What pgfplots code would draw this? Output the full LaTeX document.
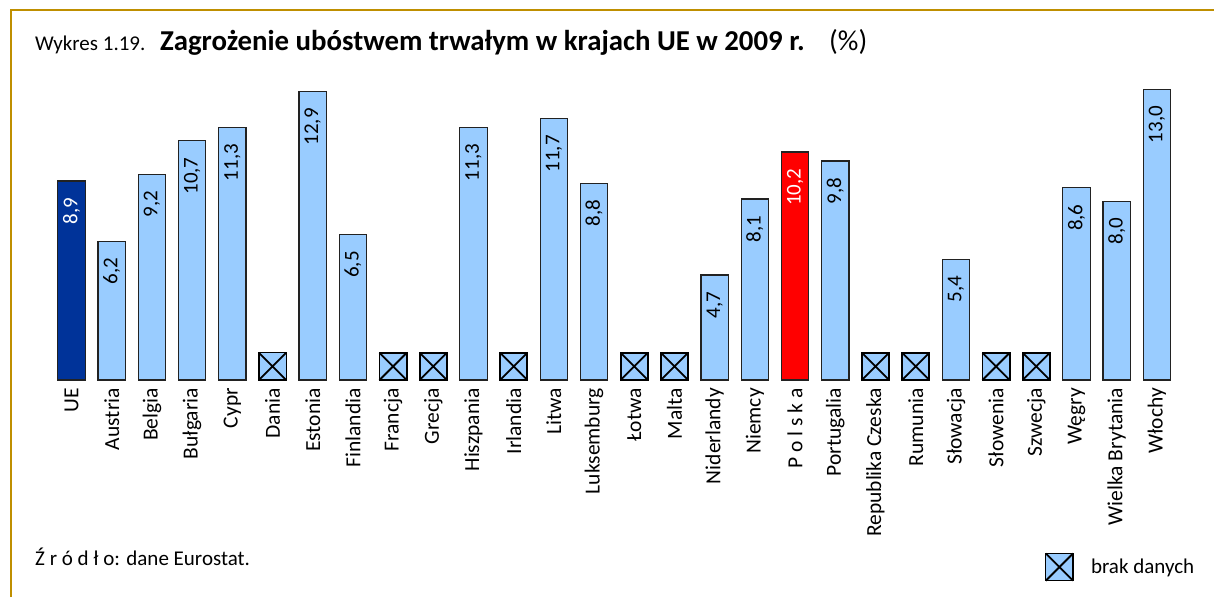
\documentclass[border=0pt]{standalone}
\usepackage{fontspec}
\setmainfont{Carlito}
\usepackage{pgfplots}
\pgfplotsset{compat=1.18}
\definecolor{lblue}{HTML}{99CCFF}
\definecolor{dblue}{HTML}{003399}
\definecolor{pred}{HTML}{FF0000}
\definecolor{gold}{HTML}{BF8F00}
\definecolor{bord}{HTML}{222222}
\pgfdeclareplotmark{boxx}{%
  \pgfpathrectangle{\pgfpoint{-\pgfplotmarksize}{-\pgfplotmarksize}}{\pgfpoint{2\pgfplotmarksize}{2\pgfplotmarksize}}%
  \pgfusepathqfillstroke
  \pgfsetlinewidth{1.8pt}%
  \pgfpathmoveto{\pgfpoint{-\pgfplotmarksize}{-\pgfplotmarksize}}%
  \pgfpathlineto{\pgfpoint{\pgfplotmarksize}{\pgfplotmarksize}}%
  \pgfpathmoveto{\pgfpoint{-\pgfplotmarksize}{\pgfplotmarksize}}%
  \pgfpathlineto{\pgfpoint{\pgfplotmarksize}{-\pgfplotmarksize}}%
  \pgfusepathqstroke}
\newcommand{\fs}{\fontsize{21}{25}\selectfont}
\newcommand{\ft}{\fontsize{21.5}{25}\selectfont}
\begin{document}
\begin{tikzpicture}
\useasboundingbox (0,0) rectangle (1214pt,597pt);
\draw[gold, line width=2pt] (11pt,0) -- (11pt,587pt) -- (1214pt,587pt);
\node[anchor=base west, inner sep=0pt] at (35pt,546pt) {\fs Wykres 1.19.};
\node[anchor=base west, inner sep=0pt] at (160pt,546pt) {\fontsize{28.8}{32}\selectfont\bfseries Zagrożenie ubóstwem trwałym w krajach UE w 2009 r.\mdseries\hspace{0.85em}(\%)};
\node[anchor=base west, inner sep=0pt] at (35pt,32pt) {\fs Ź r ó d ł o: dane Eurostat.};
\begin{axis}[
  at={(51.4pt,217pt)}, anchor=south west,
  scale only axis, width=1125.6pt, height=301.7pt,
  xmin=-0.5, xmax=27.5, ymin=0, ymax=13.5,
  axis x line*=bottom, axis y line=none,
  x axis line style={draw=none},
  major tick length=0pt,
  clip=false,
  xtick={0,...,27},
  xticklabels={UE,Austria,Belgia,Bułgaria,Cypr,Dania,Estonia,Finlandia,Francja,Grecja,Hiszpania,Irlandia,Litwa,Luksemburg,Łotwa,Malta,Niderlandy,Niemcy,P o l s k a,Portugalia,Republika Czeska,Rumunia,Słowacja,Słowenia,Szwecja,Węgry,Wielka Brytania,Włochy},
  xticklabel style={yshift=-8pt, rotate=90, anchor=east, inner sep=0pt, font=\ft},
  ybar, bar width=27.4pt,
  /pgf/number format/.cd, fixed, fixed zerofill, precision=1, use comma, assume math mode=true,
  /pgfplots/.cd,
  legend style={at={(0.8833,-0.62)}, anchor=west, draw=none, fill=none, inner sep=0pt, column sep=18pt, font=\fs, nodes={inner sep=0pt}},
  legend image code/.code={\draw[#1] plot coordinates {(13.6pt,0pt)};},
]
\addplot[bar shift=0pt, fill=dblue, draw=bord, line width=1.2pt, forget plot,
  nodes near coords, nodes near coords style={yshift=-16pt, rotate=90, anchor=east, inner sep=0pt, font=\fs, text=white}]
  coordinates {(0,8.9)};
\addplot[bar shift=0pt, fill=lblue, draw=bord, line width=1.2pt, forget plot,
  nodes near coords, nodes near coords style={yshift=-16pt, rotate=90, anchor=east, inner sep=0pt, font=\fs, text=black}]
  coordinates {(1,6.2) (2,9.2) (3,10.7) (4,11.3) (6,12.9) (7,6.5) (10,11.3) (12,11.7) (13,8.8) (16,4.7) (17,8.1) (19,9.8) (22,5.4) (25,8.6) (26,8.0) (27,13.0)};
\addplot[bar shift=0pt, fill=pred, draw=bord, line width=1.2pt, forget plot,
  nodes near coords, nodes near coords style={yshift=-16pt, rotate=90, anchor=east, inner sep=0pt, font=\fs, text=white}]
  coordinates {(18,10.2)};
\addplot[only marks, mark=boxx, mark size=13.6pt, mark options={fill=lblue, draw=black, line width=1.2pt}]
  coordinates {(5,0.6085) (8,0.6085) (9,0.6085) (11,0.6085) (14,0.6085) (15,0.6085) (20,0.6085) (21,0.6085) (23,0.6085) (24,0.6085)};
\addlegendentry{brak danych}
\end{axis}
\end{tikzpicture}
\end{document}
